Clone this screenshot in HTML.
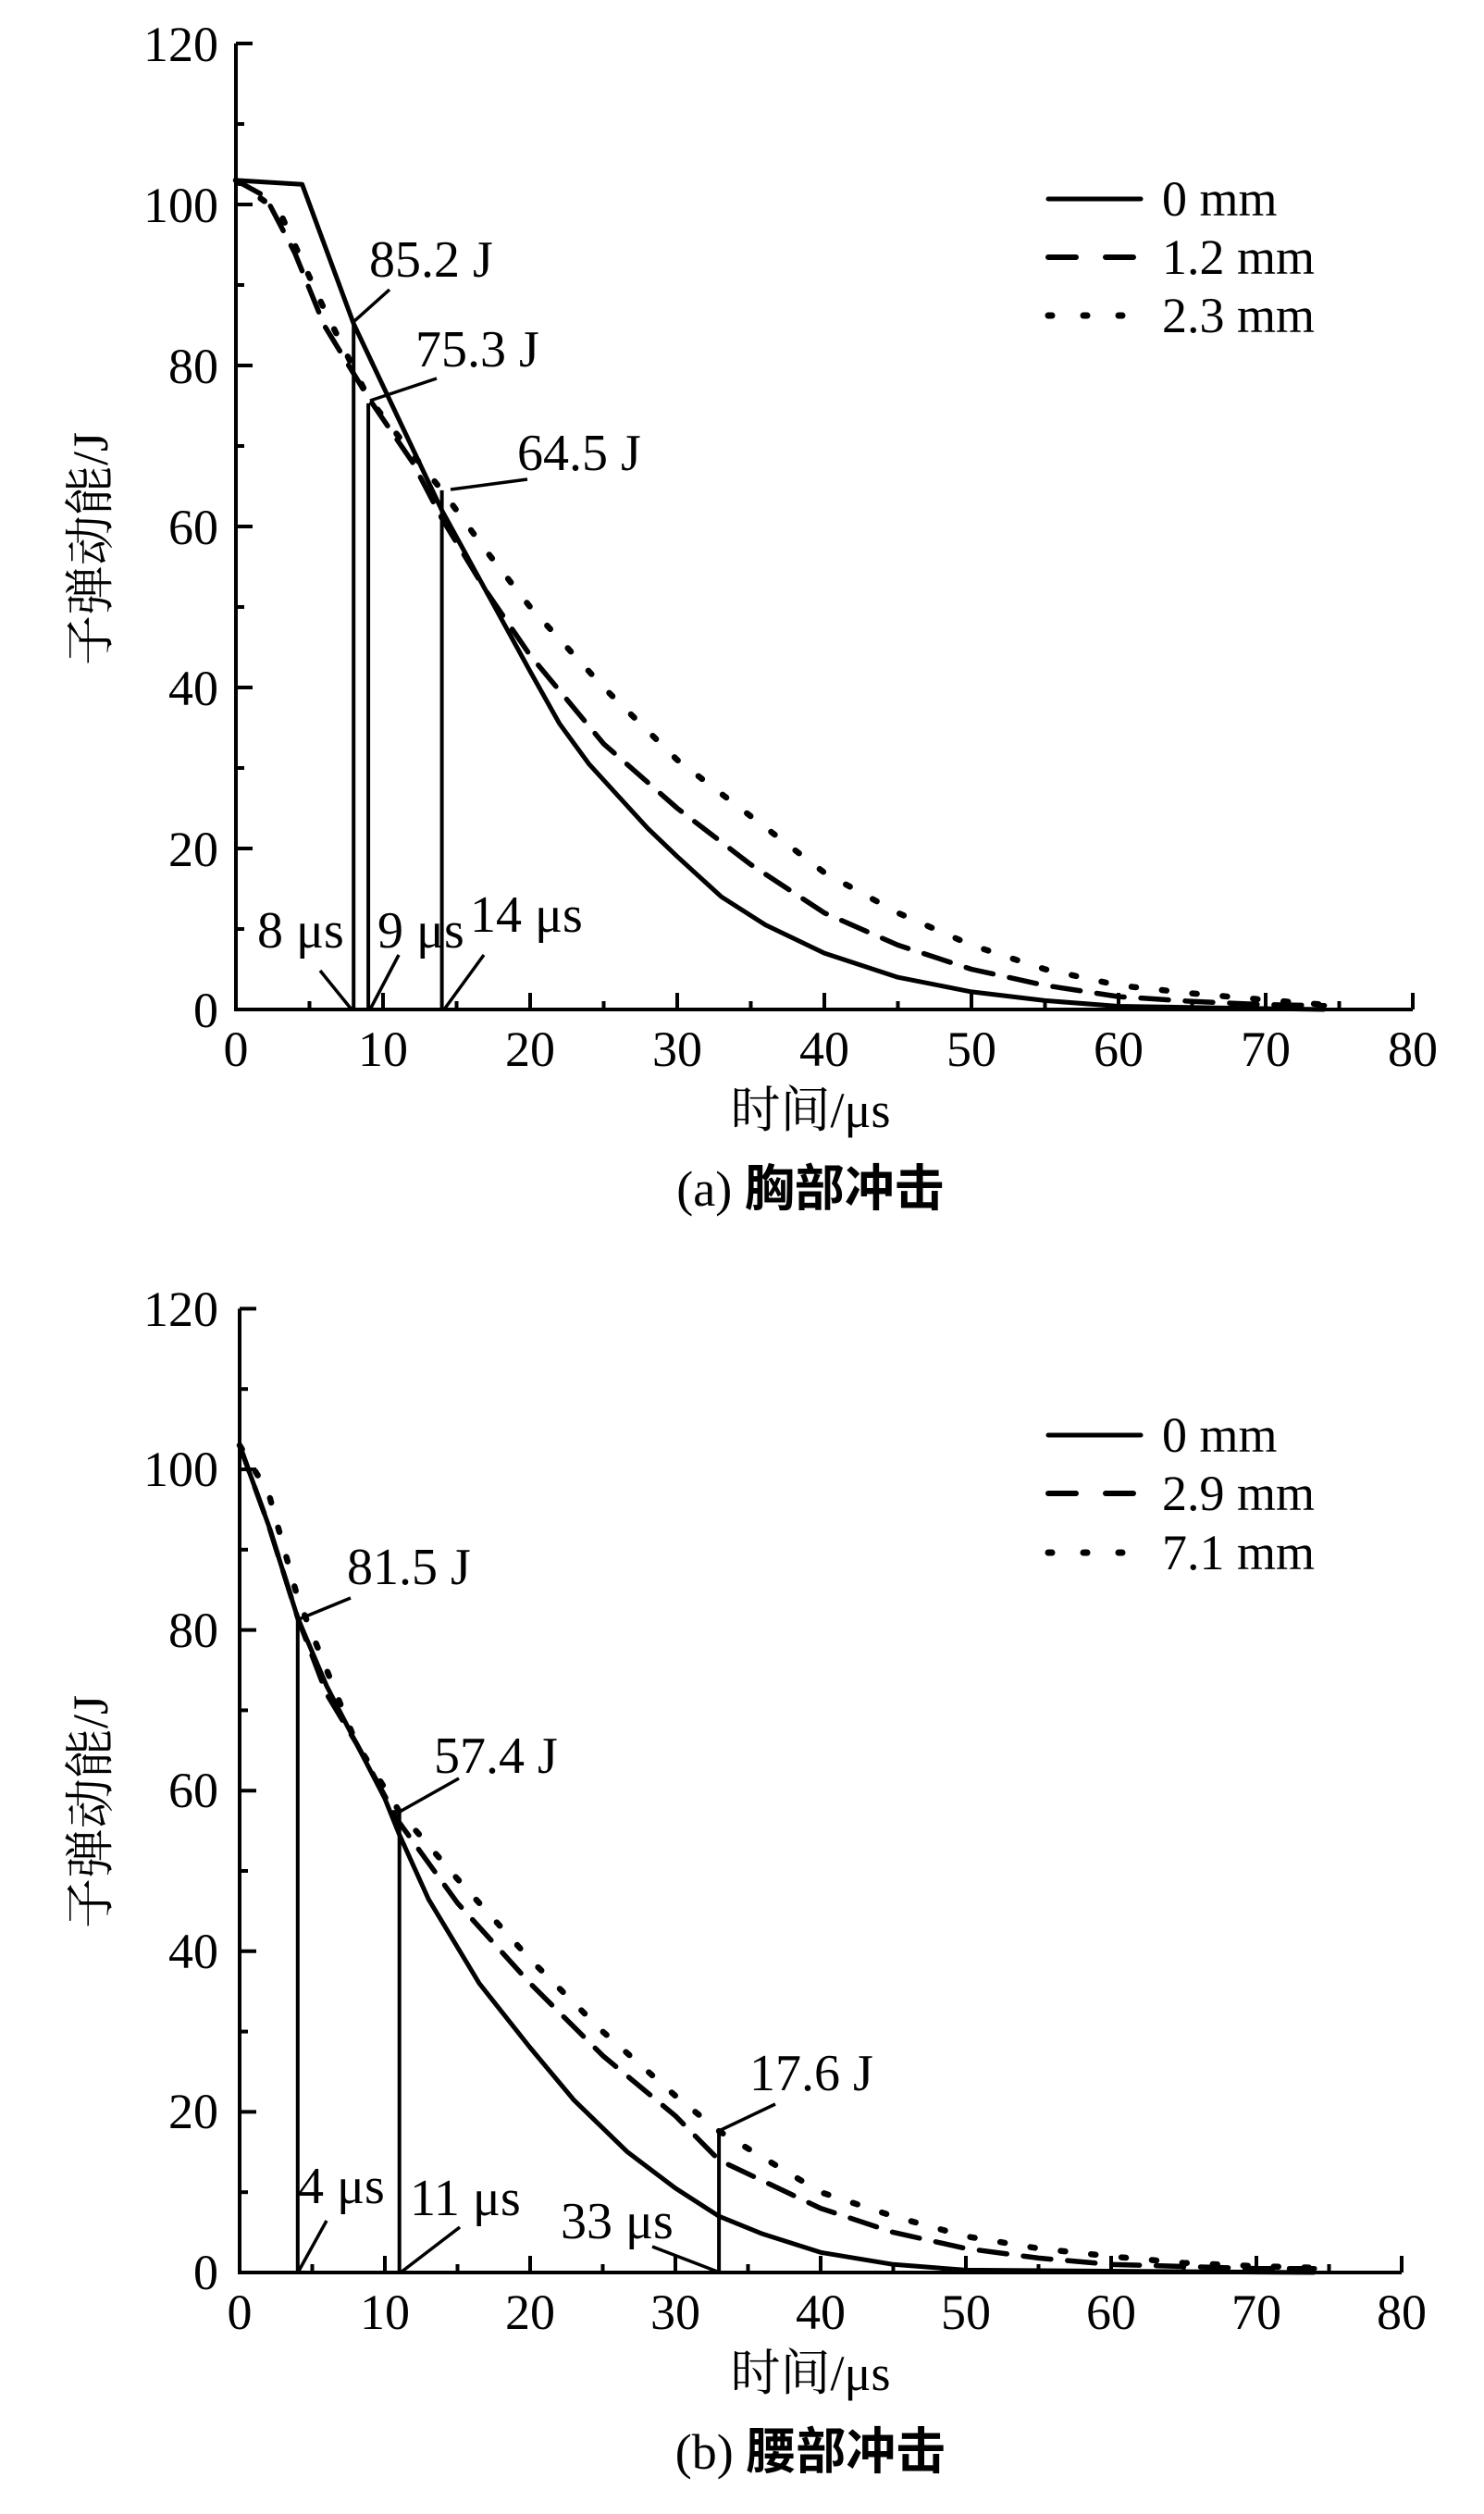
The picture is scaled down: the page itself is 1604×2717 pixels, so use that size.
<!DOCTYPE html>
<html><head><meta charset="utf-8">
<style>
html,body{margin:0;padding:0;background:#fff;}
svg{display:block;}
.t{font-family:"Liberation Serif","Noto Serif CJK SC",serif;fill:#000;}
.c{font-family:"Liberation Serif","Noto Sans CJK SC",sans-serif;fill:#000;font-weight:bold;}
</style></head>
<body>
<svg id="s" width="1604" height="2717" viewBox="0 0 1604 2717" xmlns="http://www.w3.org/2000/svg">
<g id="ga"></g>
<g id="gb"></g>
<g class="t" font-size="54" text-anchor="end">
<text x="236" y="66">120</text><text x="236" y="240">100</text><text x="236" y="414">80</text>
<text x="236" y="588">60</text><text x="236" y="762">40</text><text x="236" y="936">20</text><text x="236" y="1110">0</text>
</g>
<g class="t" font-size="54" text-anchor="middle">
<text x="255" y="1152">0</text><text x="414" y="1152">10</text><text x="573" y="1152">20</text><text x="732" y="1152">30</text>
<text x="891" y="1152">40</text><text x="1050" y="1152">50</text><text x="1209" y="1152">60</text><text x="1368" y="1152">70</text><text x="1527" y="1152">80</text>
</g>
<text class="t" font-size="54" x="876" y="1218" text-anchor="middle">时间/μs</text>
<text class="t" font-size="54" transform="translate(116,593) rotate(-90)" text-anchor="middle">子弹动能/J</text>
<text class="c" font-size="54" x="876" y="1303" text-anchor="middle"><tspan font-weight="normal" font-family="Liberation Serif">(a) </tspan>胸部冲击</text>
<g class="t" font-size="56">
<text x="399" y="299">85.2 J</text><text x="449" y="396">75.3 J</text><text x="559" y="508">64.5 J</text>
<text x="278" y="1024">8 μs</text><text x="408" y="1024">9 μs</text><text x="508" y="1007">14 μs</text>
</g>
<g class="t" font-size="54">
<text x="1256" y="233">0 mm</text><text x="1256" y="296">1.2 mm</text><text x="1256" y="359">2.3 mm</text>
</g>
<g class="t" font-size="54" text-anchor="end">
<text x="236" y="1433">120</text><text x="236" y="1606">100</text><text x="236" y="1780">80</text>
<text x="236" y="1953">60</text><text x="236" y="2127">40</text><text x="236" y="2300">20</text><text x="236" y="2474">0</text>
</g>
<g class="t" font-size="54" text-anchor="middle">
<text x="259" y="2517">0</text><text x="416" y="2517">10</text><text x="573" y="2517">20</text><text x="730" y="2517">30</text>
<text x="887" y="2517">40</text><text x="1044" y="2517">50</text><text x="1201" y="2517">60</text><text x="1358" y="2517">70</text><text x="1515" y="2517">80</text>
</g>
<text class="t" font-size="54" x="876" y="2583" text-anchor="middle">时间/μs</text>
<text class="t" font-size="54" transform="translate(116,1958) rotate(-90)" text-anchor="middle">子弹动能/J</text>
<text class="c" font-size="54" x="876" y="2668" text-anchor="middle"><tspan font-weight="normal" font-family="Liberation Serif">(b) </tspan>腰部冲击</text>
<g class="t" font-size="56">
<text x="375" y="1712">81.5 J</text><text x="469" y="1916">57.4 J</text><text x="810" y="2259">17.6 J</text>
<text x="322" y="2381">4 μs</text><text x="443" y="2394">11 μs</text><text x="606" y="2419">33 μs</text>
</g>
<g class="t" font-size="54">
<text x="1256" y="1569">0 mm</text><text x="1256" y="1632">2.9 mm</text><text x="1256" y="1696">7.1 mm</text>
</g>
</svg>
<script>
var NS="http://www.w3.org/2000/svg";
function el(g,tag,a){var e=document.createElementNS(NS,tag);for(var k in a)e.setAttribute(k,a[k]);g.appendChild(e);return e;}
function panel(gid,x0,y0,sx,sy,curves,ann,leg){
 var g=document.getElementById(gid);
 function X(v){return x0+v*sx;} function Y(v){return y0-v*sy;}
 el(g,"path",{d:"M"+X(0)+" "+Y(120)+" L"+X(0)+" "+Y(0)+" L"+X(80)+" "+Y(0),fill:"none",stroke:"#000","stroke-width":4});
 for(var v=10;v<=120;v+=10){var L=(v%20==0)?18:9;el(g,"line",{x1:X(0),y1:Y(v),x2:X(0)+L,y2:Y(v),stroke:"#000","stroke-width":4});}
 for(var t=5;t<=80;t+=5){var L=(t%10==0)?18:9;el(g,"line",{x1:X(t),y1:Y(0),x2:X(t),y2:Y(0)-L,stroke:"#000","stroke-width":4});}
 var styles=[{"stroke-width":5},{"stroke-width":5.5,"stroke-dasharray":"30 18","stroke-linecap":"round"},{"stroke-width":6.5,"stroke-dasharray":"5 28","stroke-linecap":"round"}];
 curves.forEach(function(c,i){
   var d=c.map(function(p,j){return (j?"L":"M")+X(p[0]).toFixed(1)+" "+Y(p[1]).toFixed(1);}).join(" ");
   var a={d:d,fill:"none",stroke:"#000","stroke-linejoin":"round"};for(var k in styles[i])a[k]=styles[i][k];el(g,"path",a);
 });
 ann.forEach(function(a){
   el(g,"line",{x1:X(a[0]),y1:Y(0),x2:X(a[0]),y2:Y(a[1]),stroke:"#000","stroke-width":4});
 });
 leg.lines.forEach(function(l){el(g,"line",{x1:l[0],y1:l[1],x2:l[2],y2:l[3],stroke:"#000","stroke-width":3.5});});
 var ly=leg.y;
 for(var i=0;i<3;i++){var a={x1:1133,y1:ly[i],x2:1233,y2:ly[i],stroke:"#000"};
   if(i==0){a["stroke-width"]=5;a["stroke-linecap"]="round";}
   if(i==1){a.x2=1228;a["stroke-width"]=6;a["stroke-dasharray"]="30 32";a["stroke-linecap"]="round";}
   if(i==2){a.x2=1215;a["stroke-width"]=7;a["stroke-dasharray"]="4 34";a["stroke-linecap"]="round";}
   el(g,"line",a);}
}
panel("ga",255,1091,15.9,8.7,[
 [[0,103],[4.5,102.5],[8,85.2],[14,62],[17,52],[20,42],[22,35.5],[24,30.5],[26,26.5],[28,22.5],[30,19],[33,14],[36,10.5],[40,7],[45,4],[50,2.2],[55,1.1],[60,0.4],[74,0]],
 [[0,103],[2,101],[4,94],[6,85],[8,79],[9,76],[12,68],[14,61],[17,52],[20,44],[25,33],[30,25],[35,18],[40,12],[45,8],[50,5],[55,3],[60,1.6],[65,1],[70,0.6],[74,0.5]],
 [[0,103],[3,99],[6,87],[9,76],[12,69],[14,64.5],[17,57],[20,50],[25,40],[30,31],[35,24],[40,17],[45,12],[50,8],[55,5],[60,3],[65,2],[70,1.2],[74,0.6]]
],[[8,85.2],[9,75.3],[14,64.5]],{y:[215,278,341],lines:[
 [382,348,421,313],[400,433,472,409],[487,529,570,518],
 [346,1049,380,1091],[431,1032,400,1091],[523,1032,480,1091]]});
panel("gb",259,2456,15.7,8.68,[
 [[0,103],[2,93],[4,81.5],[6,73],[8,66],[10,59],[11,54.5],[13,46.5],[16.5,36],[20,28],[23,21.5],[26.7,15],[30,10.5],[33,7],[36,4.8],[40,2.5],[45,1],[50,0.3],[74,0]],
 [[0,103],[2,93],[4,81.5],[6,72],[8,66],[11,56],[15,46],[20,36],[25,27],[30,19.5],[33,14],[40,8],[45,5],[50,3],[55,1.8],[60,1],[70,0.5],[74,0.5]],
 [[0,103],[2,97],[4,84],[6,75],[8,66],[11,57.4],[15,49],[20,39],[25,30],[30,22],[33,17.6],[40,10],[45,7],[50,4.5],[55,3],[60,2],[65,1.2],[70,0.8],[74,0.6]]
],[[4,81.5],[11,57.4],[33,17.6]],{y:[1551,1614,1678],lines:[
 [323,1750,379,1727],[432,1958,496,1922],[777,2303,838,2274],
 [353,2400,322,2456],[497,2407,433,2456],[705,2428,778,2456]]});
</script>
</body></html>
